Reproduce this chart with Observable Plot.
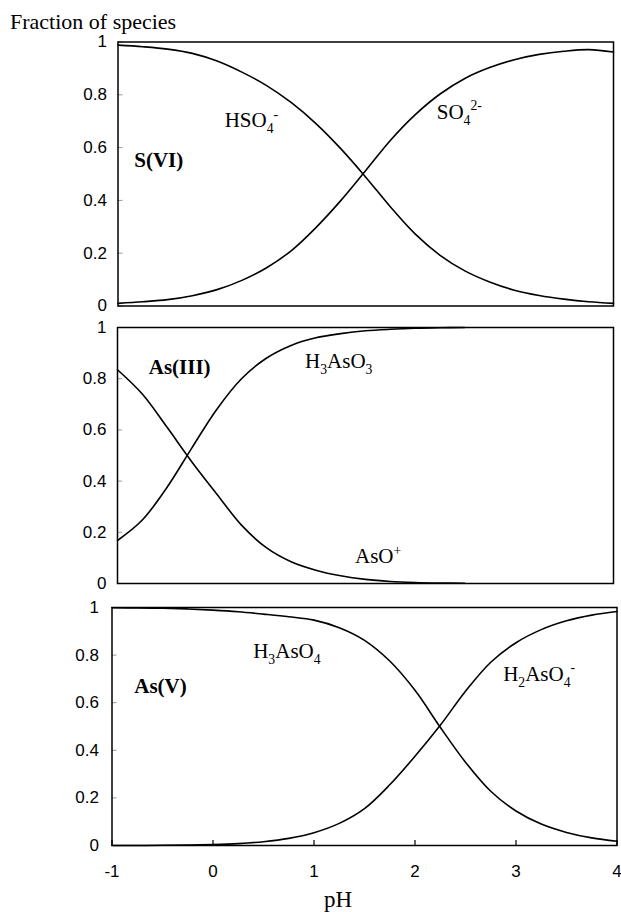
<!DOCTYPE html>
<html>
<head>
<meta charset="utf-8">
<script src="https://cdn.jsdelivr.net/npm/d3@7"></script>
<script src="https://cdn.jsdelivr.net/npm/@observablehq/plot@0.6"></script>
<style>
  body { margin: 0; background: #fff; }
  #wrap { position: relative; width: 621px; height: 912px; overflow: hidden; background: #fff; }
  #wrap .panel { position: absolute; left: 0; }
  .lab { position: absolute; font-family: "Liberation Serif", "Times New Roman", serif; color: #000; white-space: nowrap; line-height: 1; }
</style>
</head>
<body>
<div id="wrap"></div>
<script>
// ---------- data ----------
const pH1 = [-1, -0.75, -0.5, -0.25, 0, 0.25, 0.5, 0.75, 1, 1.25, 1.5, 1.75, 2, 2.25, 2.5, 2.75, 3, 3.25, 3.5, 3.75, 4];
const HSO4 = [0.988, 0.982, 0.973, 0.957, 0.928, 0.886, 0.835, 0.77, 0.69, 0.595, 0.488, 0.375, 0.272, 0.192, 0.133, 0.091, 0.06, 0.04, 0.026, 0.016, 0.01];
const SO4  = [0.01, 0.016, 0.024, 0.039, 0.062, 0.097, 0.145, 0.21, 0.298, 0.40, 0.513, 0.628, 0.725, 0.803, 0.862, 0.903, 0.933, 0.953, 0.965, 0.971, 0.962];

const pH2 = [-1, -0.75, -0.5, -0.25, 0, 0.25, 0.5, 0.75, 1, 1.25, 1.5, 1.75, 2, 2.25, 2.5];
const AsOplus = [0.835, 0.74, 0.61, 0.475, 0.35, 0.228, 0.14, 0.085, 0.052, 0.03, 0.016, 0.008, 0.004, 0.002, 0.001];
const H3AsO3  = [0.168, 0.248, 0.376, 0.53, 0.68, 0.80, 0.88, 0.93, 0.96, 0.976, 0.987, 0.993, 0.997, 0.999, 1.0];

const pH3 = [-1, -0.75, -0.5, -0.25, 0, 0.25, 0.5, 0.75, 1, 1.25, 1.5, 1.75, 2, 2.25, 2.5, 2.75, 3, 3.25, 3.5, 3.75, 4];
const H3AsO4 = [0.999, 0.998, 0.997, 0.994, 0.989, 0.982, 0.972, 0.961, 0.947, 0.915, 0.862, 0.775, 0.652, 0.497, 0.35, 0.228, 0.145, 0.09, 0.055, 0.032, 0.018];
const H2AsO4 = [0.0, 0.0, 0.001, 0.002, 0.004, 0.008, 0.016, 0.03, 0.054, 0.093, 0.155, 0.255, 0.375, 0.505, 0.648, 0.77, 0.852, 0.907, 0.944, 0.968, 0.983];

const yTicks = [0, 0.2, 0.4, 0.6, 0.8, 1];
const xTicks = [-1, 0, 1, 2, 3, 4];

// annotation texts (markup: _x subscript, ^x / ^{..} superscript)
const labels1 = [
  { t: "HSO_4^-", pH: 0.076, v: 0.702 },
  { t: "SO_4^{2-}", pH: 2.216, v: 0.733 }
];
const names1 = [{ t: "S(VI)", pH: -0.836, v: 0.551 }];
const labels2 = [
  { t: "H_3AsO_3", pH: 0.891, v: 0.867 },
  { t: "AsO^+", pH: 1.394, v: 0.105 }
];
const names2 = [{ t: "As(III)", pH: -0.685, v: 0.843 }];
const labels3 = [
  { t: "H_3AsO_4", pH: 0.398, v: 0.815 },
  { t: "H_2AsO_4^-", pH: 2.873, v: 0.719 }
];
const names3 = [{ t: "As(V)", pH: -0.78, v: 0.667 }];

// ---------- helpers ----------
function table(pH, series) {
  const rows = [];
  for (const [name, vals] of series) vals.forEach((v, i) => rows.push({ pH: pH[i], v, name }));
  return rows;
}

const SERIF = '"Liberation Serif", "Times New Roman", serif';
const SANS = '"Liberation Sans", Arial, sans-serif';
const LABEL_FS = 21;
const TICK_FS = 17;

function richText(svg, fs) {
  svg.querySelectorAll("text").forEach(t => {
    const s = t.textContent;
    if (!/[_^]/.test(s)) return;
    while (t.firstChild) t.removeChild(t.firstChild);
    const re = /([_^])(\{[^}]*\}|.)|([^_^]+)/g;
    let m, cur = 0;
    while ((m = re.exec(s))) {
      const ts = document.createElementNS("http://www.w3.org/2000/svg", "tspan");
      let target = 0, txt;
      if (m[3] !== undefined) { txt = m[3]; }
      else {
        txt = m[2].replace(/[{}]/g, "");
        target = m[1] === "_" ? 0.28 * fs : -0.42 * fs;
        ts.setAttribute("font-size", (0.65 * fs).toFixed(1));
      }
      const dy = target - cur;
      if (dy !== 0) ts.setAttribute("dy", dy.toFixed(2));
      cur = target;
      ts.textContent = txt;
      t.appendChild(ts);
    }
  });
}

function panel(o) {
  const W = 621;
  const pw = W - o.ml - o.mr;
  const ph = o.height - o.mt - o.mb;
  const marks = [
    Plot.tickY(yTicks, { y: d => d, stroke: "#999", strokeWidth: 1, insetRight: pw - 5 }),
    Plot.axisY({ ticks: yTicks, tickSize: 0, tickPadding: o.yPad, tickFormat: d => String(d), label: null, fontFamily: SANS, fontSize: TICK_FS }),
    Plot.line(o.rows, { x: "pH", y: "v", z: "name", curve: "catmull-rom", stroke: "black", strokeWidth: 1.6 }),
    Plot.frame({ stroke: "black", strokeWidth: 1.5 }),
    Plot.text(o.labels, { x: "pH", y: "v", text: "t", textAnchor: "start", lineAnchor: "middle", fontFamily: SERIF, fontSize: LABEL_FS, fill: "black" }),
    Plot.text(o.names, { x: "pH", y: "v", text: "t", textAnchor: "start", lineAnchor: "middle", fontFamily: SERIF, fontSize: LABEL_FS, fontWeight: "bold", fill: "black" })
  ];
  if (o.xAxis) {
    marks.push(Plot.tickX(xTicks, { x: d => d, stroke: "black", strokeWidth: 1.2, insetTop: ph - 5 }));
    marks.push(Plot.axisX({ ticks: xTicks, tickSize: 0, tickPadding: 19, tickFormat: d => String(d), label: null, fontFamily: SANS, fontSize: TICK_FS }));
  } else {
    marks.push(Plot.axisX({ ticks: [], label: null }));
  }
  const svg = Plot.plot({
    width: W, height: o.height,
    marginTop: o.mt, marginBottom: o.mb, marginLeft: o.ml, marginRight: o.mr,
    x: { domain: [-1, 4] },
    y: { domain: [0, 1] },
    style: { background: "none", overflow: "visible", color: "black" },
    marks
  });
  svg.classList.add("panel");
  svg.style.top = o.top + "px";
  richText(svg, LABEL_FS);
  return svg;
}

const wrap = document.getElementById("wrap");

wrap.appendChild(panel({
  top: 0, height: 314, mt: 41.5, mb: 8.5, ml: 117.5, mr: 8, yPad: 11,
  rows: table(pH1, [["HSO4-", HSO4], ["SO42-", SO4]]),
  labels: labels1, names: names1, xAxis: false
}));
wrap.appendChild(panel({
  top: 314, height: 280, mt: 13, mb: 11, ml: 117, mr: 8, yPad: 11,
  rows: table(pH2, [["AsO+", AsOplus], ["H3AsO3", H3AsO3]]),
  labels: labels2, names: names2, xAxis: false
}));
wrap.appendChild(panel({
  top: 594, height: 318, mt: 13, mb: 67, ml: 111.5, mr: 4.5, yPad: 13,
  rows: table(pH3, [["H3AsO4", H3AsO4], ["H2AsO4-", H2AsO4]]),
  labels: labels3, names: names3, xAxis: true
}));

// titles
const t1 = document.createElement("div");
t1.className = "lab";
t1.style.cssText = "left:10px; top:11px; font-size:22px;";
t1.textContent = "Fraction of species";
wrap.appendChild(t1);

const t2 = document.createElement("div");
t2.className = "lab";
t2.style.cssText = "left:288px; width:100px; text-align:center; top:888px; font-size:23px;";
t2.textContent = "pH";
wrap.appendChild(t2);
</script>
</body>
</html>
